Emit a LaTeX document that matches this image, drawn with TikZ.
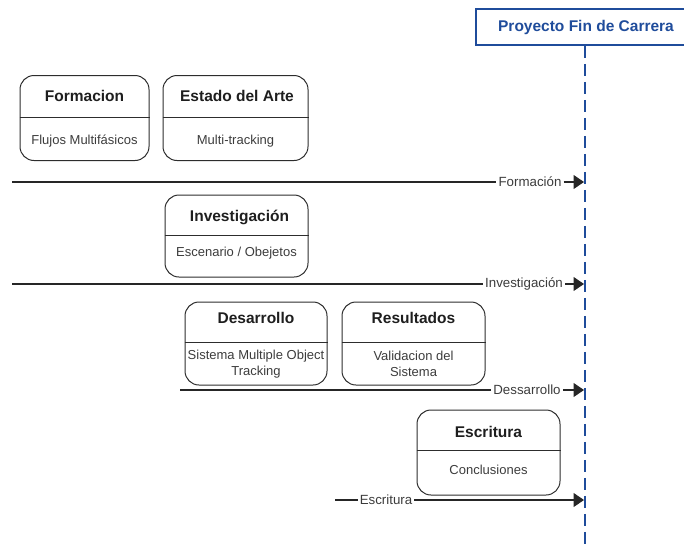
\documentclass[tikz,border=0pt]{standalone}
\usepackage{fontspec}
\setmainfont{Liberation Sans}
\usetikzlibrary{arrows.meta}
\definecolor{lifeblue}{RGB}{31,76,155}
\definecolor{boxline}{RGB}{45,45,45}
\definecolor{txt}{RGB}{30,30,30}
\definecolor{subtxt}{RGB}{60,60,60}
\begin{document}
\begin{tikzpicture}[x=1pt,y=-1pt,
  phase/.style={draw=boxline, line width=1pt, rounded corners=14pt, inner sep=0pt, minimum height=85pt},
  divider/.style={draw=boxline, line width=1pt},
  ttl/.style={font=\bfseries\fontsize{15.5}{18}\selectfont, text=txt, inner sep=0pt},
  sub/.style={font=\fontsize{13}{15.5}\selectfont, text=subtxt, align=center, inner sep=0pt},
  msg/.style={font=\fontsize{13.3}{15}\selectfont, text=subtxt, inner xsep=2pt, inner ysep=0pt},
  conn/.style={draw=black!85, line width=1.1pt},
  arr/.style={conn, -{Triangle[length=10.5pt,width=14pt]}},
  hdr/.style={draw=lifeblue, line width=1.5pt, minimum width=218pt, minimum height=36pt, inner sep=0pt},
  hdrtxt/.style={font=\bfseries\fontsize{15.5}{18}\selectfont, text=lifeblue, inner sep=0pt},
  life/.style={draw=lifeblue, line width=2pt, dash pattern=on 12pt off 6pt}
]
\useasboundingbox (0,0) rectangle (684,549);

% header and lifeline
\node[hdr] (pfc) at (585,27) {};
\node[hdrtxt] (pfct) at (586,27) {Proyecto Fin de Carrera};
\coordinate (lifeend) at (585,552);
\draw[life] (pfc.south) -- (lifeend);

% Formacion
\node[phase, minimum width=129pt] (fo) at (84.5,118) {};
\draw[divider] (fo.west |- 0,117) -- (fo.east |- 0,117);
\node[ttl] (fot) at (84.5,96) {Formacion};
\node[sub] (fos) at (84.5,141) {Flujos Multifásicos};

% Estado del Arte
\node[phase, minimum width=145pt] (ea) at (235.5,118) {};
\draw[divider] (ea.west |- 0,117) -- (ea.east |- 0,117);
\node[ttl] (eat) at (237,96) {Estado del Arte};
\node[sub] (eas) at (235.5,141) {Multi-tracking};

% Investigacion
\node[phase, minimum width=143pt, minimum height=82pt] (in) at (236.5,236) {};
\draw[divider] (in.west |- 0,235) -- (in.east |- 0,235);
\node[ttl] (int) at (239.5,217) {Investigación};
\node[sub] (ins) at (236.5,253) {Escenario / Obejetos};

% Desarrollo
\node[phase, minimum width=142pt, minimum height=83pt] (de) at (256,343.5) {};
\draw[divider] (de.west |- 0,342) -- (de.east |- 0,342);
\node[ttl] (det) at (256,318) {Desarrollo};
\node[sub] (des) at (256,364) {Sistema Multiple Object\\Tracking};

% Resultados
\node[phase, minimum width=143pt, minimum height=83pt] (re) at (413.5,343.5) {};
\draw[divider] (re.west |- 0,342) -- (re.east |- 0,342);
\node[ttl] (ret) at (413.5,318) {Resultados};
\node[sub] (res) at (413.5,364) {Validacion del\\Sistema};

% Escritura
\node[phase, minimum width=143pt] (es) at (488.5,452.5) {};
\draw[divider] (es.west |- 0,450) -- (es.east |- 0,450);
\node[ttl] (est) at (488.5,432) {Escritura};
\node[sub] (ess) at (488.5,470) {Conclusiones};

% messages
\coordinate (m1s) at (12,182);  \coordinate (m1e) at (584,182);
\node[msg] (m1) at (530,182) {Formación};
\draw[conn] (m1s) -- (m1.west);
\draw[arr] (m1.east) -- (m1e);

\coordinate (m2s) at (12,284);  \coordinate (m2e) at (584,284);
\node[msg] (m2) at (524,284) {Investigación};
\draw[conn] (m2s) -- (m2.west);
\draw[arr] (m2.east) -- (m2e);

\coordinate (m3s) at (180,390); \coordinate (m3e) at (584,390);
\node[msg] (m3) at (527,390) {Dessarrollo};
\draw[conn] (m3s) -- (m3.west);
\draw[arr] (m3.east) -- (m3e);

\coordinate (m4s) at (335,500); \coordinate (m4e) at (584,500);
\node[msg] (m4) at (386,500) {Escritura};
\draw[conn] (m4s) -- (m4.west);
\draw[arr] (m4.east) -- (m4e);
\end{tikzpicture}
\end{document}
